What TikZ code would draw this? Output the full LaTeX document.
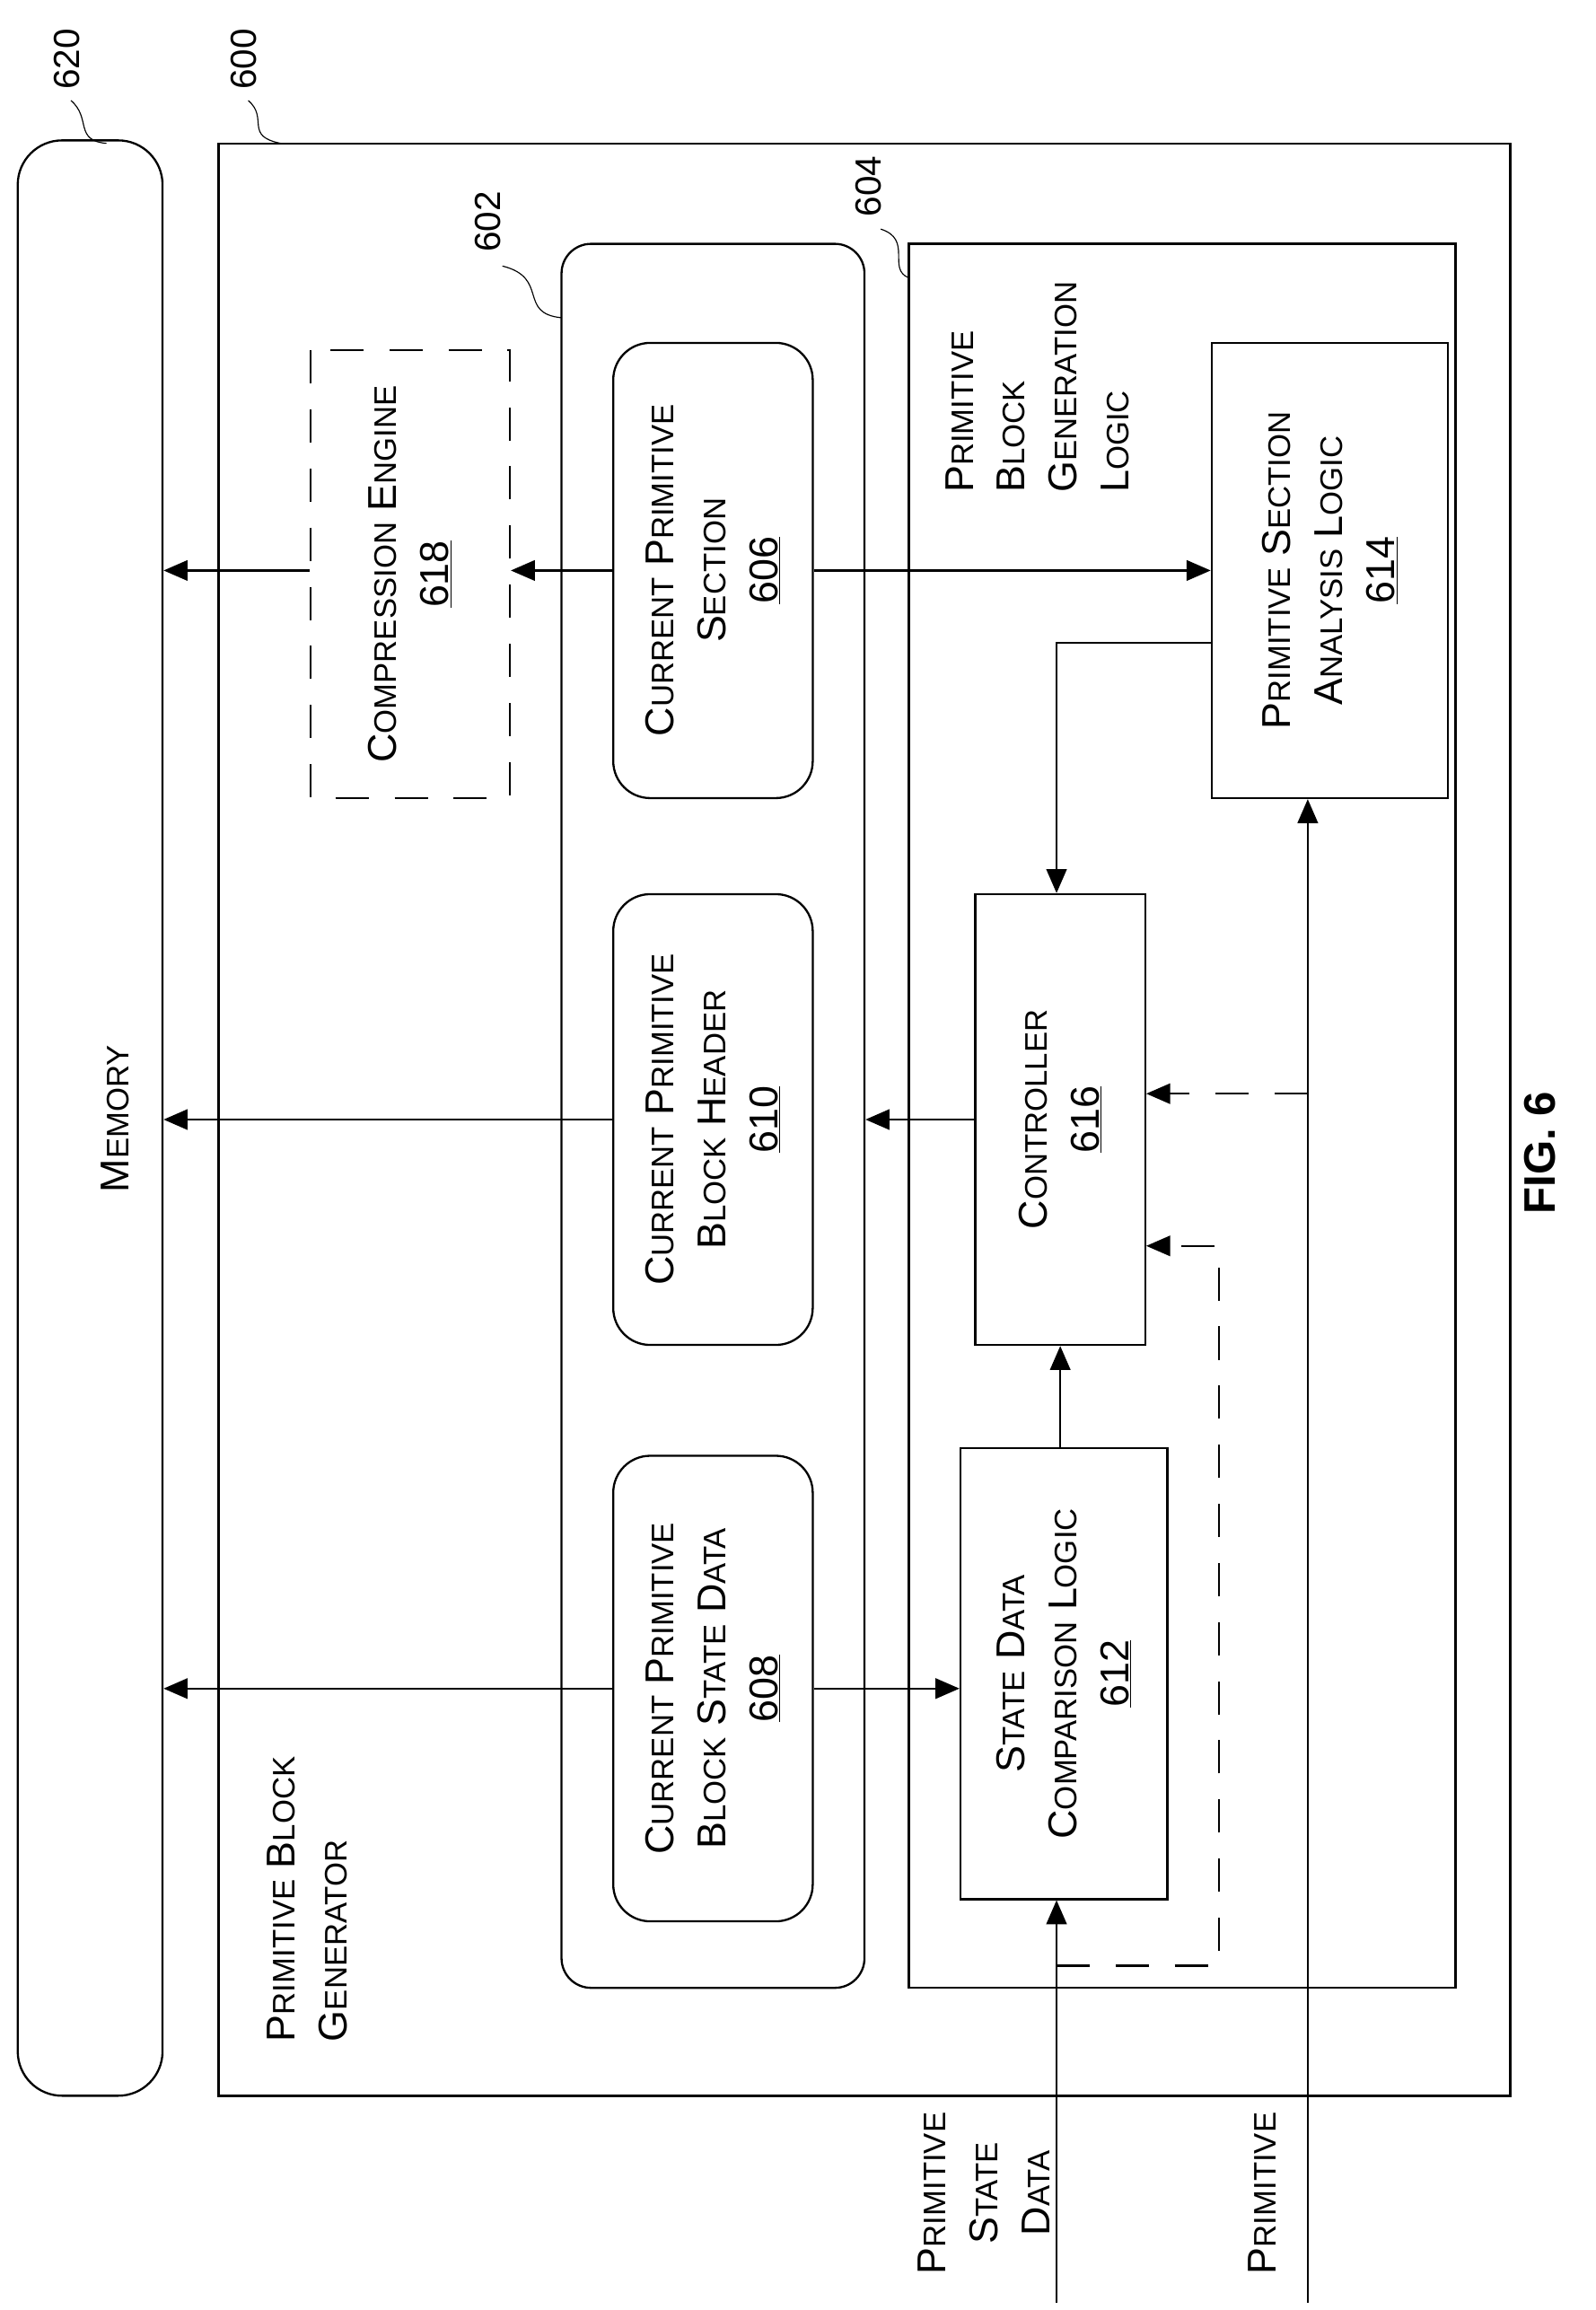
\documentclass[tikz,border=0pt]{standalone}
\usepackage{fontspec}
\setmainfont{Liberation Sans}
\usetikzlibrary{arrows.meta,positioning,calc}
\newcommand\sm[1]{{\fontsize{24}{28}\selectfont\MakeUppercase{#1}}}
\begin{document}
\begin{tikzpicture}[x=0.4mm,y=-0.4mm,line width=1.6pt,
  font=\fontsize{31}{40}\selectfont]
\tikzstyle{blk}=[rectangle, draw, rotate=90, align=center, inner sep=0pt]
\tikzstyle{rblk}=[blk, rounded corners=10mm]
\tikzstyle{txt}=[rotate=90, inner sep=0pt]
\tikzstyle{arr}=[-{Triangle[length=6.5mm,width=5.5mm]}]
\tikzstyle{dsh}=[dash pattern=on 9mm off 7mm]
\tikzstyle{ref}=[txt, font=\fontsize{28}{32}\selectfont]
\useasboundingbox (0,0) rectangle (1080,1563);

% outer boxes
\node[draw, rectangle, rounded corners=12mm, minimum width=39.2mm, minimum height=529.2mm] at (61,756.5) (mem) {};
\node[txt] at (78,757) {M\sm{emory}};
\node[draw, rectangle, minimum width=349.6mm, minimum height=528.4mm] at (585,757.5) (gen) {};
\node[draw, rectangle, rounded corners=8mm, minimum width=82mm, minimum height=472mm] at (482.5,755) (store) {};
\node[draw, rectangle, minimum width=148mm, minimum height=472mm] at (800,755) (logic) {};

% inner blocks
\node[blk, dsh, minimum width=121.2mm, minimum height=54mm] at (277.5,388.5) (comp) {C\sm{ompression} E\sm{ngine}\\\underline{618}};
\node[rblk, minimum width=123.2mm, minimum height=54mm] at (482.5,386) (sect) {C\sm{urrent} P\sm{rimitive}\\S\sm{ection}\\\underline{606}};
\node[rblk, minimum width=122mm, minimum height=54mm] at (482.5,757.5) (head) {C\sm{urrent} P\sm{rimitive}\\B\sm{lock} H\sm{eader}\\\underline{610}};
\node[rblk, minimum width=126mm, minimum height=54mm] at (482.5,1142.5) (sdat) {C\sm{urrent} P\sm{rimitive}\\B\sm{lock} S\sm{tate} D\sm{ata}\\\underline{608}};
\node[blk, minimum width=123.2mm, minimum height=64mm] at (900,386) (anal) {P\sm{rimitive} S\sm{ection}\\A\sm{nalysis} L\sm{ogic}\\\underline{614}};
\node[blk, minimum width=122mm, minimum height=46mm] at (717.5,757.5) (ctrl) {C\sm{ontroller}\\\underline{616}};
\node[blk, minimum width=122mm, minimum height=56mm] at (720,1132.5) (comp2) {S\sm{tate} D\sm{ata}\\C\sm{omparison} L\sm{ogic}\\\underline{612}};

\node[txt, align=left] at (208,1285) (genlbl) {P\sm{rimitive} B\sm{lock}\\G\sm{enerator}};
\node[txt, align=left] at (702,262) (loglbl) {P\sm{rimitive}\\B\sm{lock}\\G\sm{eneration}\\L\sm{ogic}};

% inputs
\coordinate (psdin) at (715,1558);
\coordinate (primin) at (885,1558);
\node[txt, align=center] at (666,1484) (psdlbl) {P\sm{rimitive}\\S\sm{tate}\\D\sm{ata}};
\node[txt] at (854,1484) (primlbl) {P\sm{rimitive}};

% connectors
\draw[arr] (sect.north) -- (sect.north -| comp.south);
\draw[arr] (sect.north -| comp.north) -- (sect.north -| mem.east);
\draw[arr] (sect.south) -- (sect.south -| anal.north);
\draw[arr] (ctrl.north) -- (ctrl.north -| store.east);
\draw[arr] (head.north) -- (head.north -| mem.east);
\draw[arr] (sdat.north) -- (sdat.north -| mem.east);
\draw[arr] (sdat.south) -- (sdat.south -| comp2.north);
\draw[arr] (comp2.east -| ctrl.west) -- (ctrl.west);
\draw[arr] (psdin) -- (psdin |- comp2.west);
\draw[arr] (primin) -- (primin |- anal.west);
\draw[arr] (anal.north |- 0,435) -- (715,435) -- (ctrl.east -| 715,0);
\coordinate (d1) at (885,740);
\draw[arr, dsh] (d1) -- (d1 -| ctrl.south);
\coordinate (d2) at (715,1330);
\draw[arr, dsh] (d2) -- (825,1330) -- (825,843) -- (ctrl.south |- 0,843);

% reference labels
\node[ref] at (45,40) (l620) {620};
\draw[line width=0.8pt] (48,68) .. controls (62,80) and (50,95) .. (72,97);
\node[ref] at (165,40) (l600) {600};
\draw[line width=0.8pt] (168,68) .. controls (182,80) and (165,92) .. (190,97);
\node[ref] at (330,150) (l602) {602};
\draw[line width=0.8pt] (340,180) .. controls (372,188) and (350,212) .. (380,215);
\node[ref] at (588,126) (l604) {604};
\draw[line width=0.8pt] (596,155) .. controls (618,162) and (600,182) .. (615,188);

\node[txt, font=\fontsize{34}{40}\selectfont\bfseries] at (1042,780) (fig) {FIG. 6};
\end{tikzpicture}
\end{document}
